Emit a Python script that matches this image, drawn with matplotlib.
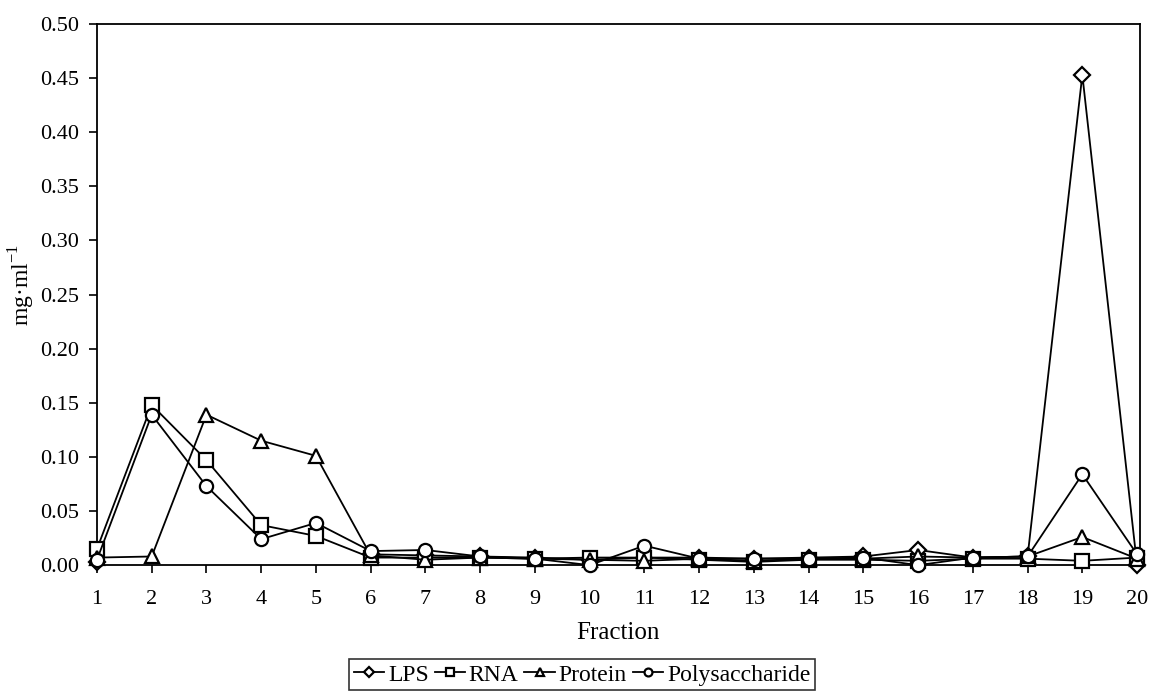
import numpy as np
import matplotlib
matplotlib.use('Agg')
import matplotlib.pyplot as plt

plt.rcParams['font.family'] = ['Liberation Serif', 'DejaVu Serif']
plt.rcParams['mathtext.fontset'] = 'custom'
plt.rcParams['mathtext.rm'] = 'Liberation Serif'

# Daten
fractions = list(range(1, 21))
lps = [0.003, np.nan, np.nan, np.nan, np.nan, 0.010, 0.009, 0.008, 0.007, 0.005,
       0.007, 0.007, 0.006, 0.007, 0.008, 0.014, 0.007, 0.008, 0.453, 0.000]
rna = [0.015, 0.148, 0.097, 0.037, 0.027, 0.007, 0.007, 0.007, 0.006, 0.007,
       0.007, 0.005, 0.003, 0.005, 0.005, 0.004, 0.006, 0.006, 0.004, 0.007]
protein = [0.007, 0.008, 0.139, 0.115, 0.101, 0.009, 0.005, 0.007, 0.006, 0.005,
           0.004, 0.006, 0.004, 0.006, 0.006, 0.008, 0.007, 0.008, 0.026, 0.006]
polysaccharide = [0.005, 0.139, 0.073, 0.024, 0.039, 0.013, 0.014, 0.008, 0.006, 0.000,
                  0.018, 0.006, 0.006, 0.006, 0.007, 0.000, 0.007, 0.008, 0.084, 0.010]

series = [('LPS', lps, 'D', 8), ('RNA', rna, 's', 9.5),
          ('Protein', protein, '^', 10), ('Polysaccharide', polysaccharide, 'o', 9.5)]

fig = plt.figure(figsize=(11.49, 6.96), dpi=100)
ax = fig.add_axes([0.0844, 0.188, 0.9076, 0.7775])

handles = []
for name, vals, mk, ms in series:
    line, = ax.plot(fractions, vals, color='black', linewidth=1.3, marker=mk,
                    markersize=ms, markerfacecolor='white', markeredgecolor='black',
                    markeredgewidth=1.6, label=name, clip_on=False, zorder=3)
    handles.append(line)

ax.set_xlim(1, 20.05)
ax.set_ylim(0, 0.5)
ax.set_xticks(fractions)
ax.set_yticks(np.arange(0, 0.51, 0.05))
ax.set_yticklabels([f'{v:.2f}' for v in np.arange(0, 0.51, 0.05)])
ax.tick_params(axis='both', direction='out', length=6, width=1.2, labelsize=16)
ax.tick_params(axis='y', pad=7)
ax.tick_params(axis='x', pad=12)
ax.tick_params(top=False, right=False)
for sp in ax.spines.values():
    sp.set_linewidth(1.3)

ax.set_xlabel('Fraction', fontsize=18)
ax.set_ylabel('mg·ml$^{\\mathregular{-1}}$', fontsize=17)
ax.xaxis.set_label_coords(0.5, -0.105)
ax.yaxis.set_label_coords(-0.0575, 0.517)

leg = fig.legend(handles=handles, loc='lower center', bbox_to_anchor=(0.5065, 0.008),
                 ncol=4, fontsize=17, frameon=True, fancybox=False, edgecolor='black',
                 handlelength=1.3, handletextpad=0.15, columnspacing=0.25,
                 borderpad=0.2, borderaxespad=0.0, markerscale=0.6)
leg.get_frame().set_linewidth(1.2)

fig.savefig('out.png', dpi=100)
